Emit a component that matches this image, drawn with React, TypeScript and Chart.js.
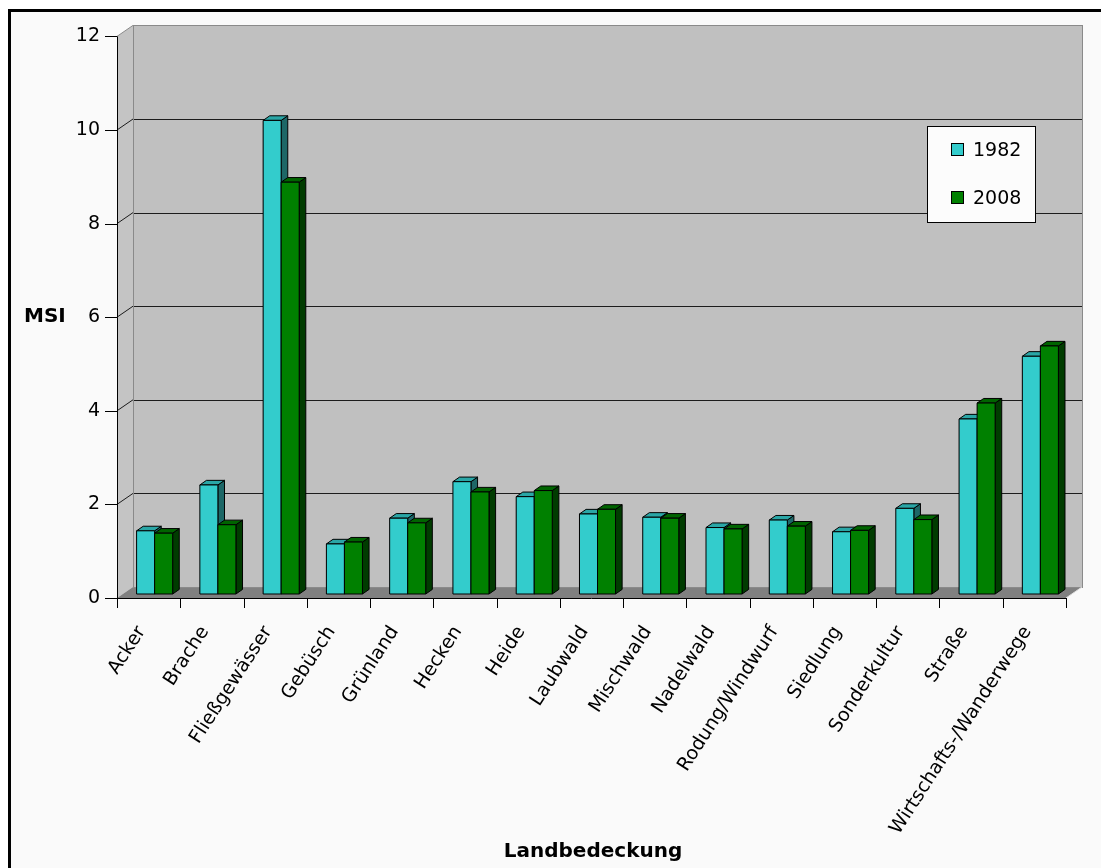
import { useEffect, useRef } from 'react';
import { Chart, registerables } from 'chart.js';

Chart.register(...registerables);

// Land cover classes and mean shape index (MSI) per survey year
const categories = [
  'Acker',
  'Brache',
  'Fließgewässer',
  'Gebüsch',
  'Grünland',
  'Hecken',
  'Heide',
  'Laubwald',
  'Mischwald',
  'Nadelwald',
  'Rodung/Windwurf',
  'Siedlung',
  'Sonderkultur',
  'Straße',
  'Wirtschafts-/Wanderwege',
];
const msi1982 = [1.35, 2.33, 10.12, 1.07, 1.62, 2.4, 2.08, 1.71, 1.64, 1.42, 1.58, 1.33, 1.83, 3.74, 5.08];
const msi2008 = [1.3, 1.48, 8.8, 1.11, 1.52, 2.18, 2.21, 1.81, 1.62, 1.39, 1.45, 1.36, 1.59, 4.08, 5.3];
const seriesNames = ['1982', '2008'];
const yMin = 0;
const yMax = 12;
const yStep = 2;
const xTitle = 'Landbedeckung';
const yTitle = 'MSI';

// face shading of the columns: front, top, side
const faces = [
  { front: '#33cccc', top: '#2aa6a6', side: '#1d6767' },
  { front: '#008000', top: '#006400', side: '#003c00' },
];

const FONT = '"DejaVu Sans", Verdana, sans-serif';
const WALL_DEPTH = { dx: 16, dy: -11 };
const BAR_SHIFT = { dx: 6, dy: -4 };
const BAR_DEPTH = { dx: 6.6, dy: -4.6 };

type Pt = [number, number];

function poly(ctx: CanvasRenderingContext2D, pts: Pt[], fill: string | null, stroke: string | null) {
  ctx.beginPath();
  ctx.moveTo(pts[0][0], pts[0][1]);
  for (let i = 1; i < pts.length; i++) ctx.lineTo(pts[i][0], pts[i][1]);
  ctx.closePath();
  if (fill) {
    ctx.fillStyle = fill;
    ctx.fill();
  }
  if (stroke) {
    ctx.strokeStyle = stroke;
    ctx.stroke();
  }
}

function line(ctx: CanvasRenderingContext2D, x1: number, y1: number, x2: number, y2: number, color: string) {
  ctx.beginPath();
  ctx.moveTo(x1, y1);
  ctx.lineTo(x2, y2);
  ctx.strokeStyle = color;
  ctx.stroke();
}

const h = (v: number) => Math.round(v) + 0.5;

const scene3d = {
  id: 'scene3d',
  beforeDraw(chart: any) {
    const { ctx, chartArea: a, scales } = chart;
    const y = scales.y;
    const { dx, dy } = WALL_DEPTH;
    const top = y.getPixelForValue(yMax);
    const bot = y.getPixelForValue(yMin);
    ctx.save();
    ctx.lineWidth = 1;
    // sheet and frame
    ctx.fillStyle = '#ffffff';
    ctx.fillRect(0, 0, chart.width, chart.height);
    ctx.fillStyle = '#fafafa';
    ctx.fillRect(0, 1, chart.width, chart.height);
    ctx.fillStyle = '#000000';
    ctx.fillRect(0, 1, chart.width, 3);
    ctx.fillRect(0, 1, 3, chart.height);

    // back wall
    const bl = h(a.left + dx);
    const br = h(a.right + dx);
    ctx.fillStyle = '#c0c0c0';
    ctx.fillRect(bl, h(top + dy), br - bl, bot - top);
    // side wall
    poly(ctx, [[a.left, top], [a.left + dx, top + dy], [a.left + dx, bot + dy], [a.left, bot]], '#c4c4c4', null);
    // floor
    poly(ctx, [[a.left, bot], [a.right, bot], [a.right + dx, bot + dy], [a.left + dx, bot + dy]], '#808080', null);

    // value grid on back and side walls
    for (const t of y.ticks) {
      if (t.value <= yMin || t.value >= yMax) continue;
      const py = y.getPixelForValue(t.value);
      line(ctx, bl, h(py + dy), br, h(py + dy), '#1c1c1c');
      line(ctx, a.left, py, a.left + dx, py + dy, '#1c1c1c');
    }
    // wall edges
    ctx.strokeStyle = '#8a8a8a';
    ctx.strokeRect(bl, h(top + dy), br - bl, Math.round(bot - top));
    line(ctx, a.left, top, a.left + dx, top + dy, '#8a8a8a');
    line(ctx, a.right, bot, a.right + dx, bot + dy, '#e0e0e0');
    ctx.restore();
  },
  beforeDatasetsDraw(chart: any) {
    chart.ctx.save();
    chart.ctx.translate(BAR_SHIFT.dx, BAR_SHIFT.dy);
  },
  afterDatasetsDraw(chart: any) {
    const ctx: CanvasRenderingContext2D = chart.ctx;
    const metas = chart.data.datasets.map((_: any, i: number) => chart.getDatasetMeta(i));
    ctx.lineWidth = 1;
    ctx.lineJoin = 'miter';
    for (let j = 0; j < categories.length; j++) {
      metas.forEach((meta: any, i: number) => {
        const el = meta.data[j];
        if (!el) return;
        const { x, y, base, width } = el.getProps(['x', 'y', 'base', 'width'], true);
        const c = faces[i];
        const l = x - width / 2;
        const r = x + width / 2;
        const { dx, dy } = BAR_DEPTH;
        poly(ctx, [[r, y], [r + dx, y + dy], [r + dx, base + dy], [r, base]], c.side, '#000');
        poly(ctx, [[l, y], [l + dx, y + dy], [r + dx, y + dy], [r, y]], c.top, '#000');
        poly(ctx, [[l, y], [r, y], [r, base], [l, base]], c.front, '#000');
      });
    }
    ctx.restore();
  },
  afterDraw(chart: any) {
    const { ctx, chartArea: a, scales } = chart;
    const { x, y } = scales;
    const top = y.getPixelForValue(yMax);
    const bot = y.getPixelForValue(yMin);
    ctx.save();
    ctx.lineWidth = 1;
    // front axes with tick marks
    line(ctx, h(a.left), top, h(a.left), bot, '#000');
    line(ctx, a.left, h(bot), a.right, h(bot), '#000');
    for (const t of y.ticks) {
      const py = h(y.getPixelForValue(t.value));
      line(ctx, a.left - 12, py, a.left, py, '#000');
    }
    for (let i = 0; i <= categories.length; i++) {
      const px = h(x.getPixelForValue(i - 0.5));
      line(ctx, px, bot, px, bot + 10, '#000');
    }

    // axis titles
    ctx.fillStyle = '#000';
    ctx.font = `bold 20px ${FONT}`;
    ctx.textBaseline = 'alphabetic';
    ctx.textAlign = 'left';
    ctx.fillText(yTitle, 16, 314);
    ctx.textAlign = 'center';
    ctx.fillText(xTitle, 585, 849);

    // legend
    const lx = 919;
    const ly = 118;
    const lw = 108;
    const lh = 96;
    ctx.fillStyle = '#fcfcfc';
    ctx.fillRect(lx, ly, lw, lh);
    ctx.strokeStyle = '#000';
    ctx.strokeRect(lx + 0.5, ly + 0.5, lw, lh);
    ctx.font = `19px ${FONT}`;
    ctx.textAlign = 'left';
    chart.data.datasets.forEach((ds: any, i: number) => {
      const rowY = ly + 23 + i * 48;
      ctx.fillStyle = ds.backgroundColor;
      ctx.fillRect(lx + 24, rowY - 6, 13, 13);
      ctx.strokeRect(lx + 24.5, rowY - 5.5, 12, 12);
      ctx.fillStyle = '#000';
      ctx.fillText(ds.label, lx + 46, rowY + 7);
    });
    ctx.restore();
  },
};

export default function App() {
  const canvasRef = useRef<HTMLCanvasElement | null>(null);

  useEffect(() => {
    document.documentElement.style.overflow = 'hidden';
    const canvas = canvasRef.current;
    if (!canvas) return;
    const chart = new Chart(canvas, {
      type: 'bar',
      data: {
        labels: categories,
        datasets: [
          {
            label: seriesNames[0],
            data: msi1982,
            backgroundColor: faces[0].front,
            borderColor: '#000',
            borderWidth: 1,
            categoryPercentage: 0.57,
            barPercentage: 1,
          },
          {
            label: seriesNames[1],
            data: msi2008,
            backgroundColor: faces[1].front,
            borderColor: '#000',
            borderWidth: 1,
            categoryPercentage: 0.57,
            barPercentage: 1,
          },
        ],
      },
      options: {
        responsive: false,
        maintainAspectRatio: false,
        devicePixelRatio: 1,
        animation: false,
        layout: { padding: { top: 23, right: 43, left: 0, bottom: 0 } },
        plugins: {
          legend: { display: false },
          tooltip: { enabled: false },
        },
        scales: {
          x: {
            grid: { display: false, drawTicks: false },
            border: { display: false },
            ticks: {
              autoSkip: false,
              minRotation: 57,
              maxRotation: 57,
              padding: 24,
              labelOffset: -7,
              color: '#000',
              font: { family: FONT, size: 19 },
            },
            afterFit: (s: any) => {
              s.height = 270;
            },
          },
          y: {
            min: yMin,
            max: yMax,
            grid: { display: false, drawTicks: false },
            border: { display: false },
            ticks: {
              stepSize: yStep,
              padding: 17,
              color: '#000',
              font: { family: FONT, size: 19 },
            },
            afterFit: (s: any) => {
              s.width = 109;
            },
          },
        },
      },
      plugins: [scene3d],
    });
    return () => chart.destroy();
  }, []);

  return (
    <div style={{ width: 1101, height: 860 }}>
      <canvas ref={canvasRef} width={1101} height={860} style={{ display: 'block' }} />
    </div>
  );
}
